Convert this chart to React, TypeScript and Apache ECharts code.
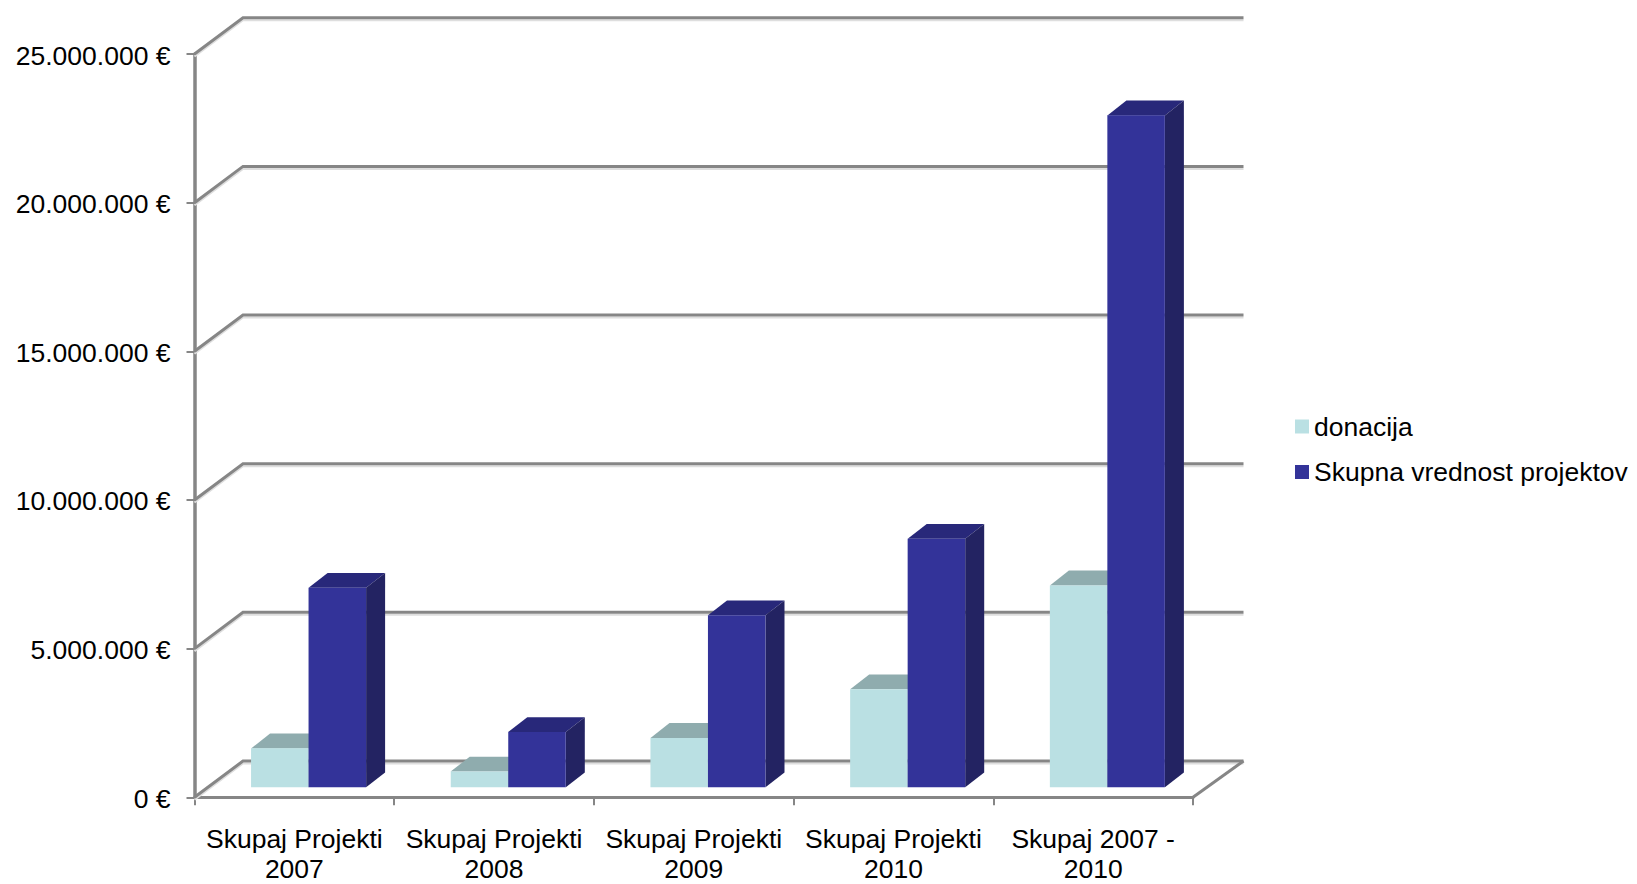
import React, { useEffect, useRef } from "react";
import * as echarts from "echarts";

const categories = ["Skupaj Projekti\n2007", "Skupaj Projekti\n2008", "Skupaj Projekti\n2009", "Skupaj Projekti\n2010", "Skupaj 2007 -\n2010"];
const donacija = [1310000, 530000, 1660000, 3300000, 6790000];
const skupnaVrednost = [6710000, 1860000, 5790000, 8360000, 22600000];
const yTicks = [0, 5000000, 10000000, 15000000, 20000000, 25000000];

const FONT = '"Liberation Sans", Arial, sans-serif';
const WALL_DX = 48.5;
const WALL_DY = 36.3;
const BAR_DX = 19;
const BAR_DY = 14.8;
const FLOOR_X = 14.2;
const FLOOR_Y = 10;
const BAR_W = 57.5;

const pts = (a: number[][]) => a.map((p) => [Math.round(p[0] * 10) / 10, Math.round(p[1] * 10) / 10]);

function barRenderer(seriesOffset: number, front: string, top: string, side: string) {
  return (params: any, api: any) => {
    const i = api.value(0);
    const v = api.value(1);
    const [cx, yTop0] = api.coord([i, v]);
    const [, y00] = api.coord([i, 0]);
    const x = cx + FLOOR_X + seriesOffset * BAR_W;
    const y = yTop0 - FLOOR_Y;
    const base = y00 - FLOOR_Y;
    return {
      type: "group",
      children: [
        {
          type: "polygon",
          shape: { points: pts([[x, y], [x + BAR_DX, y - BAR_DY], [x + BAR_W + BAR_DX, y - BAR_DY], [x + BAR_W, y]]) },
          style: { fill: top },
        },
        {
          type: "polygon",
          shape: { points: pts([[x + BAR_W, y], [x + BAR_W + BAR_DX, y - BAR_DY], [x + BAR_W + BAR_DX, base - BAR_DY], [x + BAR_W, base]]) },
          style: { fill: side },
        },
        { type: "rect", shape: { x, y, width: BAR_W, height: base - y }, style: { fill: front } },
      ],
    };
  };
}

function wallRenderer(params: any, api: any) {
  const v = api.value(1);
  const [, y] = api.coord([0, v]);
  const cs = params.coordSys;
  const x0 = cs.x;
  const x1 = cs.x + cs.width;
  const line = [[x0, y], [x0 + WALL_DX, y - WALL_DY], [x1 + WALL_DX + 2, y - WALL_DY]];
  const children: any[] = [
    { type: "polyline", shape: { points: pts(line.map((p) => [p[0], p[1] + 2.5])) }, style: { stroke: "#DEDEDE", lineWidth: 2, fill: "none" } },
    { type: "polyline", shape: { points: pts(line) }, style: { stroke: "#868686", lineWidth: 3, fill: "none" } },
  ];
  if (v === 0) {
    children.push({
      type: "line",
      shape: { x1, y1: y, x2: x1 + WALL_DX + 2, y2: y - WALL_DY },
      style: { stroke: "#868686", lineWidth: 3 },
    });
  }
  return { type: "group", children };
}

export default function App() {
  const ref = useRef<HTMLDivElement>(null);
  useEffect(() => {
    const chart = echarts.init(ref.current!, null, { renderer: "svg" });
    chart.setOption({
      animation: false,
      backgroundColor: "#fff",
      grid: { left: 194.5, top: 54, width: 998.5, height: 743.3, outerBoundsMode: "none" },
      legend: {
        orient: "vertical",
        left: 1290,
        top: 408,
        itemWidth: 14,
        itemHeight: 14,
        itemGap: 18.5,
        selectedMode: false,
        icon: "rect",
        textStyle: { fontFamily: FONT, fontSize: 26.5, color: "#000" },
        data: [
          { name: "donacija", itemStyle: { color: "#BAE0E3" } },
          { name: "Skupna vrednost projektov", itemStyle: { color: "#333399" } },
        ],
      },
      xAxis: {
        type: "category",
        data: categories,
        axisLine: { show: true, lineStyle: { color: "#868686", width: 3 } },
        axisTick: { show: true, alignWithLabel: false, length: 8, lineStyle: { color: "#868686", width: 2 } },
        axisLabel: { fontFamily: FONT, fontSize: 26.5, color: "#000", lineHeight: 30.5, margin: 26, interval: 0 },
        splitLine: { show: false },
      },
      yAxis: {
        type: "value",
        min: 0,
        max: 25000000,
        interval: 5000000,
        axisLine: { show: true, lineStyle: { color: "#868686", width: 3.5 } },
        axisTick: { show: true, length: 8, lineStyle: { color: "#868686", width: 2 } },
        axisLabel: {
          margin: 24,
          formatter: (v: number) => "{a|" + String(v).replace(/\B(?=(\d{3})+(?!\d))/g, ".") + " €}",
          rich: { a: { fontFamily: FONT, fontSize: 26.5, color: "#000", padding: [3, 0, 0, 0] } },
        },
        splitLine: { show: false },
      },
      series: [
        {
          name: "walls",
          type: "custom",
          silent: true,
          clip: false,
          z: 1,
          encode: { x: 0, y: 1 },
          data: yTicks.map((v) => [0, v]),
          renderItem: wallRenderer,
        },
        {
          name: "donacija",
          type: "custom",
          clip: false,
          z: 2,
          encode: { x: 0, y: 1 },
          data: donacija.map((v, i) => [i, v]),
          renderItem: barRenderer(-1, "#BAE0E3", "#8FACAE", "#8FACAE"),
        },
        {
          name: "Skupna vrednost projektov",
          type: "custom",
          clip: false,
          z: 3,
          encode: { x: 0, y: 1 },
          data: skupnaVrednost.map((v, i) => [i, v]),
          renderItem: barRenderer(0, "#333399", "#28287A", "#232362"),
        },
      ],
    });
    return () => chart.dispose();
  }, []);
  return <div ref={ref} style={{ position: "absolute", left: 0, top: 0, width: 1637, height: 884 }} />;
}
